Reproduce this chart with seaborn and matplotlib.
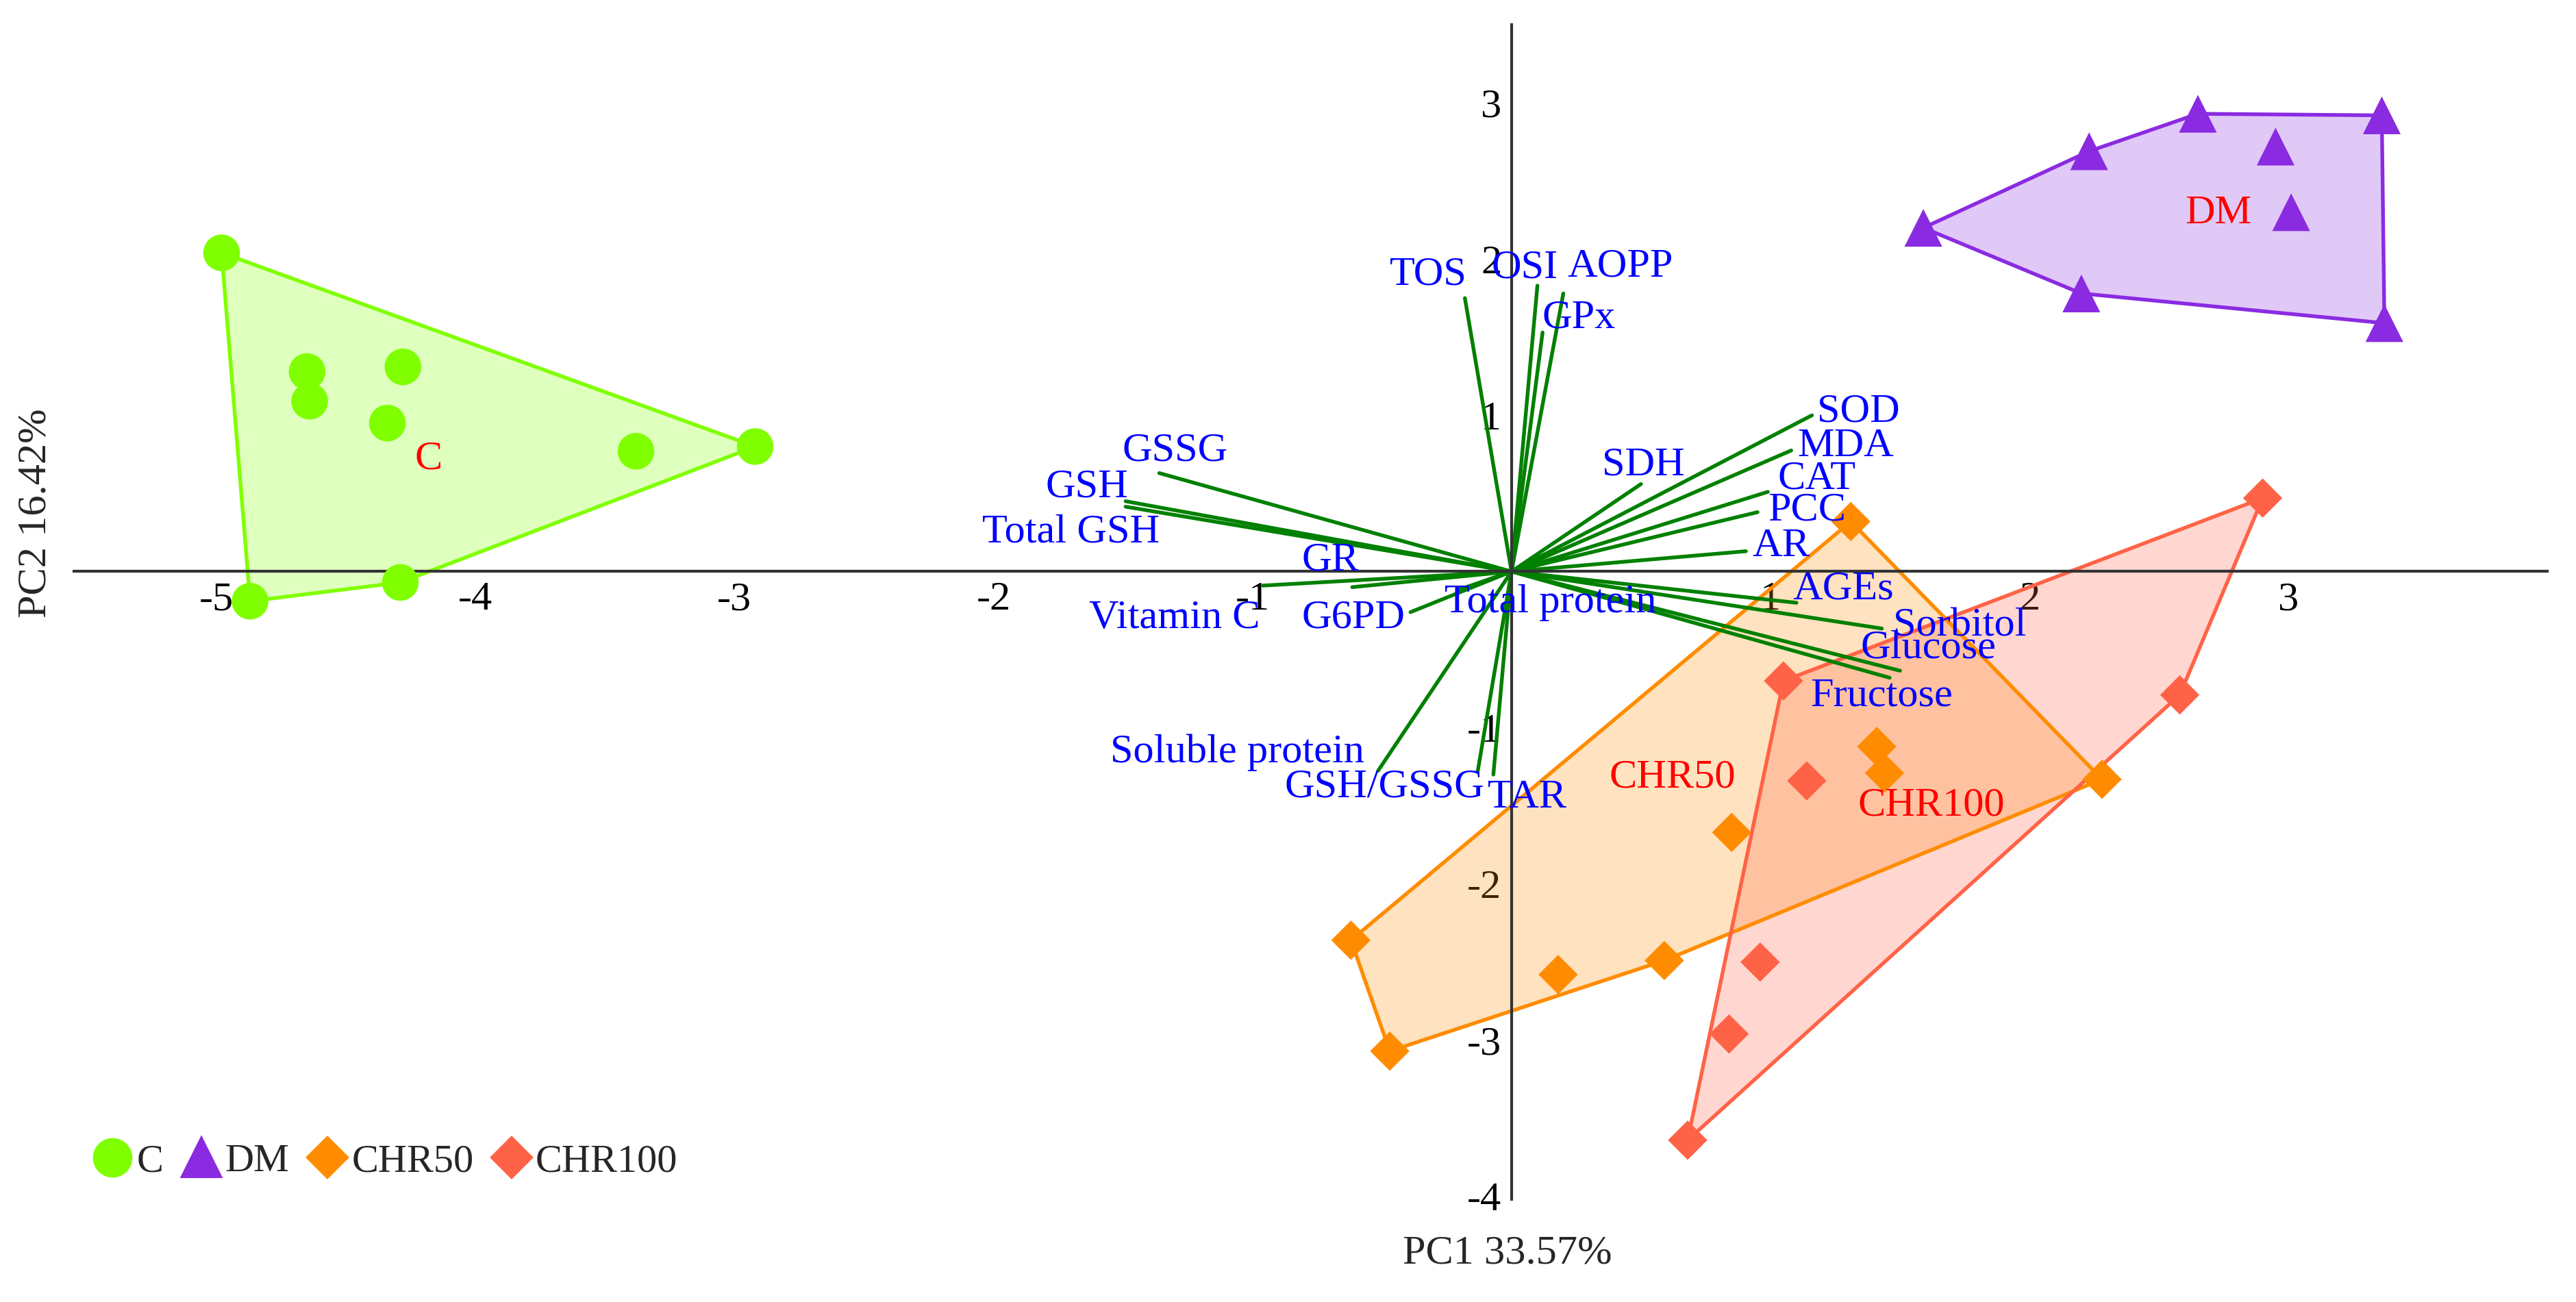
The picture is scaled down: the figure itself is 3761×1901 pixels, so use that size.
import numpy as np
import pandas as pd
import matplotlib.pyplot as plt
from matplotlib.lines import Line2D
import seaborn as sns

# group scores (PC1, PC2)
groups = ["C", "DM", "CHR50", "CHR100"]
c_pc1 = [-4.98, -4.65, -4.64, -4.28, -4.34, -3.38, -2.92, -4.29, -4.87]
c_pc2 = [2.04, 1.28, 1.09, 1.31, 0.95, 0.77, 0.80, -0.07, -0.19]
dm_pc1 = [1.59, 2.23, 2.65, 3.36, 2.95, 3.01, 2.20, 3.37]
dm_pc2 = [2.20, 2.69, 2.93, 2.92, 2.72, 2.30, 1.78, 1.59]
chr50_pc1 = [1.31, 2.28, 1.41, 1.44, 0.85, 0.59, 0.18, -0.47, -0.62]
chr50_pc2 = [0.32, -1.33, -1.12, -1.29, -1.67, -2.49, -2.58, -3.07, -2.36]
chr100_pc1 = [2.90, 2.58, 1.05, 1.14, 0.96, 0.84, 0.68]
chr100_pc2 = [0.47, -0.79, -0.70, -1.34, -2.50, -2.96, -3.64]

# variable loadings
variables = ["TOS", "OSI", "AOPP", "GPx", "SOD", "MDA", "SDH", "CAT", "PCC", "AR",
             "AGEs", "Sorbitol", "Glucose", "Fructose", "GSSG", "GSH", "Total GSH",
             "GR", "Vitamin C", "G6PD", "Total protein", "Soluble protein",
             "GSH/GSSG", "TAR"]
load_pc1 = [-0.18, 0.10, 0.20, 0.12, 1.16, 1.08, 0.50, 0.99, 0.95, 0.905,
            1.10, 1.43, 1.50, 1.46, -1.36, -1.49, -1.49,
            -0.615, -0.96, -0.39, -0.21, -0.515, -0.13, -0.07]
load_pc2 = [1.75, 1.83, 1.78, 1.53, 1.00, 0.775, 0.56, 0.51, 0.38, 0.13,
            -0.20, -0.365, -0.635, -0.68, 0.63, 0.45, 0.415,
            -0.10, -0.09, -0.26, -0.12, -1.275, -1.275, -1.30]

# where the variable names sit
lab_x = [-0.32, 0.05, 0.42, 0.26, 1.34, 1.29, 0.51, 1.18, 1.14, 1.04, 1.28, 1.73,
         1.61, 1.43, -1.30, -1.64, -1.70, -0.70, -1.30, -0.61, 0.15, -1.06, -0.49, 0.06]
lab_y = [1.90, 1.94, 1.95, 1.62, 1.02, 0.80, 0.68, 0.59, 0.39, 0.16, -0.115, -0.35,
         -0.49, -0.80, 0.77, 0.54, 0.25, 0.07, -0.30, -0.30, -0.20, -1.16, -1.38, -1.45]
group_lab_x = [-4.18, 2.73, 0.62, 1.62]
group_lab_y = [0.72, 2.29, -1.32, -1.50]

df = pd.concat([
    pd.DataFrame({"PC1": c_pc1, "PC2": c_pc2, "group": "C"}),
    pd.DataFrame({"PC1": dm_pc1, "PC2": dm_pc2, "group": "DM"}),
    pd.DataFrame({"PC1": chr50_pc1, "PC2": chr50_pc2, "group": "CHR50"}),
    pd.DataFrame({"PC1": chr100_pc1, "PC2": chr100_pc2, "group": "CHR100"}),
], ignore_index=True)

palette = {"C": "#80FF00", "DM": "#8A2BE2", "CHR50": "#FF8C00", "CHR100": "#FF6347"}
markers = {"C": "o", "DM": "^", "CHR50": "D", "CHR100": "D"}
sizes = {"C": 165, "DM": 175, "CHR50": 95, "CHR100": 95}


def convex_hull(xs, ys):
    pts = sorted(set(zip(xs, ys)))

    def cross(o, a, b):
        return (a[0] - o[0]) * (b[1] - o[1]) - (a[1] - o[1]) * (b[0] - o[0])

    lower, upper = [], []
    for p in pts:
        while len(lower) >= 2 and cross(lower[-2], lower[-1], p) <= 0:
            lower.pop()
        lower.append(p)
    for p in reversed(pts):
        while len(upper) >= 2 and cross(upper[-2], upper[-1], p) <= 0:
            upper.pop()
        upper.append(p)
    h = lower[:-1] + upper[:-1]
    return [p[0] for p in h], [p[1] for p in h]


sns.set_style("white")
plt.rcParams["font.family"] = ["Liberation Serif", "DejaVu Serif"]
plt.rcParams["axes.unicode_minus"] = False

fs = 14.5

fig = plt.figure(figsize=(3762 / 300, 1901 / 300), dpi=300)
ax = fig.add_axes([0.0287, 0.0787, 0.96, 0.9023])

# group hulls
for g in groups:
    sub = df[df["group"] == g]
    hx, hy = convex_hull(sub["PC1"], sub["PC2"])
    ax.fill(hx, hy, facecolor=palette[g], alpha=0.25, edgecolor="none", zorder=1)
    ax.fill(hx, hy, fill=False, edgecolor=palette[g], lw=1.3, zorder=1.5)

# loading vectors
for x, y in zip(load_pc1, load_pc2):
    ax.plot([0, x], [0, y], color="#008000", lw=1.3, zorder=2)

sns.scatterplot(data=df, x="PC1", y="PC2", hue="group", style="group", size="group",
                palette=palette, markers=markers, sizes=sizes, linewidth=0,
                legend=False, ax=ax, zorder=3)

for name, x, y in zip(variables, lab_x, lab_y):
    ax.text(x, y, name, color="#0000FF", fontsize=fs, ha="center", va="center", zorder=4)
for g, x, y in zip(groups, group_lab_x, group_lab_y):
    ax.text(x, y, g, color="#FF0000", fontsize=fs, ha="center", va="center", zorder=4)

ax.set_xlim(-5.55, 4.0)
ax.set_ylim(-4.02, 3.5)
ax.spines["left"].set_position(("data", 0))
ax.spines["bottom"].set_position(("data", 0))
ax.spines["top"].set_visible(False)
ax.spines["right"].set_visible(False)
for s in ["left", "bottom"]:
    ax.spines[s].set_color("#333333")
    ax.spines[s].set_linewidth(1.0)
ax.set_xticks([-5, -4, -3, -2, -1, 1, 2, 3])
ax.set_yticks([-4, -3, -2, -1, 1, 2, 3])
ax.tick_params(direction="out", length=3, width=0.8, labelsize=fs, pad=0.5, colors="black")
ax.set_xlabel("")
ax.set_ylabel("")

fig.text(0.585, 0.037, "PC1 33.57%", ha="center", va="center", fontsize=fs)
fig.text(0.014, 0.606, "PC2 16.42%", ha="center", va="center", fontsize=fs, rotation=90)

handles = [Line2D([], [], ls="none", marker=markers[g], color=palette[g],
                  markersize=np.sqrt(sizes[g])) for g in groups]
fig.legend(handles, groups, loc="center left", bbox_to_anchor=(0.022, 0.108),
           ncol=4, frameon=False, fontsize=14, handlelength=1.0, handletextpad=0.1,
           columnspacing=0.45)

fig.savefig("out.png", dpi=300)
